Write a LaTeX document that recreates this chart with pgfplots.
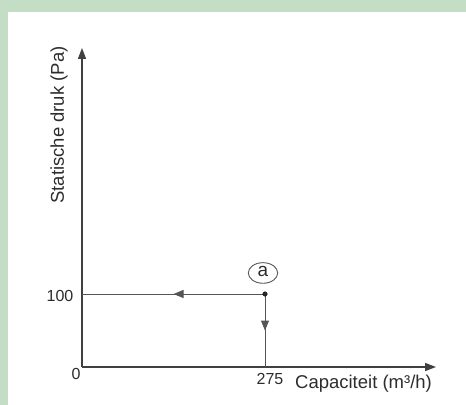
\documentclass[border=0pt]{standalone}
\usepackage{fontspec}
\setmainfont{Liberation Sans}
\usepackage{pgfplots}
\pgfplotsset{compat=1.18}
\usetikzlibrary{arrows.meta,decorations.markings}
\definecolor{bggreen}{RGB}{196,222,198}
\definecolor{axcol}{RGB}{64,64,64}
\definecolor{guidecol}{RGB}{85,85,85}
\definecolor{txt}{RGB}{45,45,45}
\begin{document}
\begin{tikzpicture}
\fill[white] (0,0) rectangle (466bp,-405bp);
\path[use as bounding box] (0,0) rectangle (466bp,-405bp);
\fill[bggreen] (0,0) rectangle (466bp,-12bp);
\fill[bggreen] (0,-12bp) rectangle (8bp,-405bp);
\begin{axis}[
  at={(82bp,-367bp)}, anchor=origin,
  x=0.66545bp, y=0.73bp,
  xmin=0, xmax=532, ymin=0, ymax=437,
  enlargelimits=false,
  axis lines=left,
  axis line style={axcol, line width=1.4bp, -{Triangle[length=11bp,width=8bp]}},
  xtick=\empty, ytick=\empty,
  clip=false,
  font=\fontsize{16bp}{19bp}\selectfont,
]
\addplot[guidecol, line width=1bp,
  postaction={decorate},
  decoration={markings, mark=at position 0.5 with {\arrow{Triangle[length=10bp,width=8bp]}}}]
  coordinates {(275,100) (0,100)};
\addplot[guidecol, line width=1bp,
  postaction={decorate},
  decoration={markings, mark=at position 0.5 with {\arrow{Triangle[length=10bp,width=8bp]}}}]
  coordinates {(275,100) (275,0)};
\addplot[only marks, mark=*, mark size=2.3bp, color=black!85] coordinates {(275,100)};
\draw[guidecol, line width=0.9bp] (axis cs:272,128.8) ellipse [x radius=14.7bp, y radius=10.3bp];
\node[txt, font=\fontsize{19bp}{21bp}\selectfont] at (axis cs:272,130.5) {a};
\node[txt] at (axis cs:-9,-9.6) {0};
\node[txt] at (axis cs:-33,97) {100};
\node[txt] at (axis cs:282.5,-16.4) {275};
\node[txt, anchor=west, inner sep=0, font=\fontsize{18.5bp}{21bp}\selectfont] at (axis cs:320,-23.3) {Capaciteit (m³/h)};
\node[txt, rotate=90, inner sep=0, font=\fontsize{18.5bp}{21bp}\selectfont] at (axis cs:-34.6,331.5) {Statische druk (Pa)};
\end{axis}
\end{tikzpicture}
\end{document}
